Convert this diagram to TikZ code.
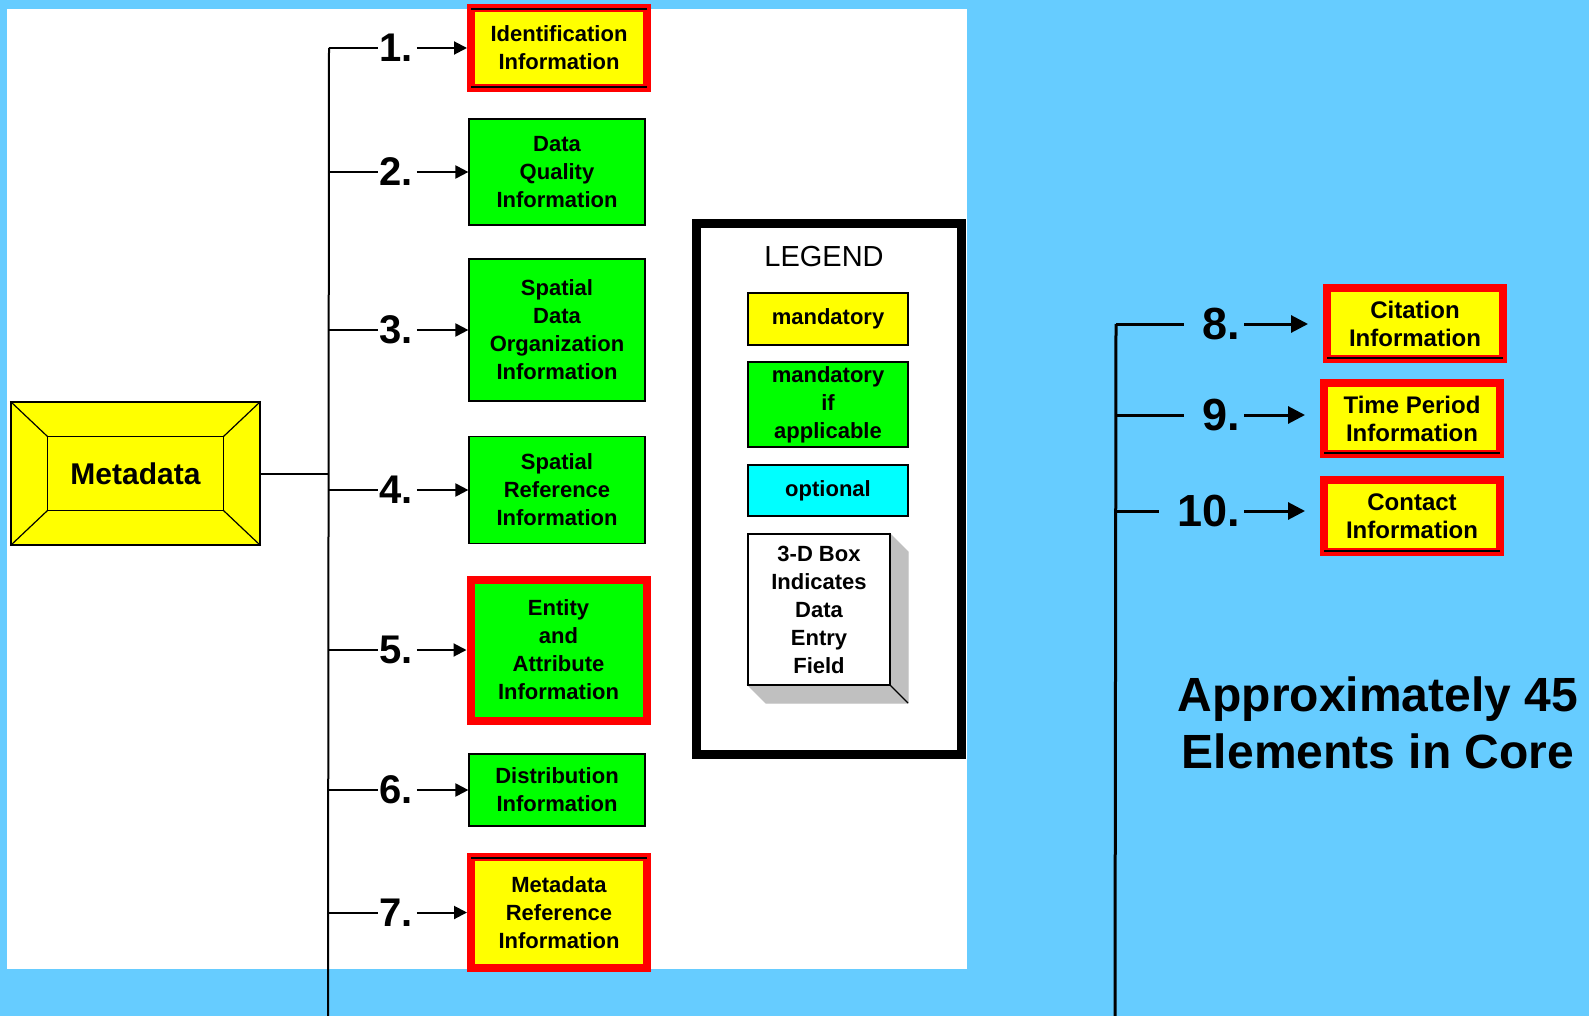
\documentclass[tikz,border=0pt]{standalone}
\usepackage{fontspec}
\setmainfont{Liberation Sans}
\usepackage{tikz}
\usetikzlibrary{arrows.meta,calc}
\definecolor{SkyBack}{HTML}{66CCFF}
\definecolor{MandYellow}{HTML}{FFFF00}
\definecolor{CondGreen}{HTML}{00FF00}
\definecolor{OptCyan}{HTML}{00FFFF}
\definecolor{CoreRed}{HTML}{FF0000}
\definecolor{DepthGray}{HTML}{C0C0C0}

\begin{document}
\begin{tikzpicture}[x=1pt, y=-1pt,
  every node/.style={font=\bfseries},
  boxtext/.style={font=\fontsize{22}{28}\selectfont\bfseries, align=center, inner sep=0pt},
  greenbox/.style={boxtext, draw, line width=1.2pt, fill=CondGreen, minimum width=176pt},
  corebox/.style={boxtext, draw=CoreRed, line width=8pt, fill=#1, minimum width=176pt},
  legendbox/.style={boxtext, draw, line width=1.2pt, fill=#1, minimum width=160pt},
  numlabel/.style={font=\fontsize{40}{40}\selectfont\bfseries, inner sep=1pt},
  bignum/.style={font=\fontsize{45}{45}\selectfont\bfseries, inner sep=2pt, anchor=east},
  sidetext/.style={font=\fontsize{24}{28}\selectfont\bfseries, align=center, inner sep=0pt},
  branch/.style={line width=2pt},
  feed/.style={line width=2pt, -{Triangle[length=13pt,width=13pt]}, shorten <=3pt},
  bigfeed/.style={line width=3pt, -{Triangle[length=17pt,width=17pt]}, shorten <=2pt, shorten >=15pt}]
  \useasboundingbox (0,0) rectangle (1589,1016);
  % page background and white panel
  \fill[SkyBack] (0,0) rectangle (1589,1016);
  \fill[white] (7,9) rectangle (967,969);

  % Metadata root box
  \node[draw, line width=1.2pt, fill=MandYellow, minimum width=249pt, minimum height=143pt,
    font=\fontsize{30}{30}\selectfont\bfseries] (meta) at (135.5,473.5) {Metadata};
  \draw[line width=1.2pt] ([shift={(37,35)}]meta.north west) rectangle ([shift={(-37,-35)}]meta.south east);
  \foreach \c/\dx/\dy in {north west/37/35, north east/-37/35, south west/37/-35, south east/-37/-35}
    \draw[line width=1.2pt] (meta.\c) -- ++(\dx,\dy);

  % left trunk
  \coordinate (ltrunk) at (329,48);
  \coordinate (lend) at (328,1016);
  \coordinate (lcol) at (396,0);
  \draw[branch] (ltrunk) -- (lend);
  \draw[branch] (meta.east) -- (meta.east -| ltrunk);

  % sections 1-7
  \node[corebox=MandYellow, minimum height=80pt] (b1) at (559,48) {Identification\\Information};
  \foreach \n/\y/\h/\txt in {2/172/106/{Data\\Quality\\Information},
      3/330/142/{Spatial\\Data\\Organization\\Information},
      4/490/107/{Spatial\\Reference\\Information},
      6/790/72/{Distribution\\Information}}
    \node[greenbox, minimum height=\h pt] (b\n) at (557,\y) {\txt};
  \node[corebox=CondGreen, minimum height=141pt] (b5) at (558.5,650) {Entity\\and\\Attribute\\Information};
  \node[corebox=MandYellow, minimum height=111pt] (b7) at (559,912.5) {Metadata\\Reference\\Information};
  \draw[line width=1.2pt] ([shift={(4,5)}]b1.north west) -- ([shift={(-4,5)}]b1.north east);
  \draw[line width=1.2pt] ([shift={(4,-5)}]b1.south west) -- ([shift={(-4,-5)}]b1.south east);
  \draw[line width=1.2pt] ([shift={(4,5)}]b7.north west) -- ([shift={(-4,5)}]b7.north east);

  \foreach \n in {1,...,7}{
    \node[numlabel] (l\n) at (b\n.west -| lcol) {\n.};
    \draw[branch] (l\n.west -| ltrunk) -- (l\n.west);
    \draw[feed] (l\n.east) -- (b\n.west);
  }

  % legend
  \node[draw, line width=9pt, minimum width=265pt, minimum height=531pt] (legend) at (829,489) {};
  \node[font=\fontsize{29}{29}\selectfont\mdseries] (lgtitle) at (824,257) {LEGEND};
  \node[legendbox=MandYellow, minimum height=52pt] (lgmand) at (828,319) {mandatory};
  \node[legendbox=CondGreen, minimum height=85pt] (lgcond) at (828,404.5) {mandatory\\if\\applicable};
  \node[legendbox=OptCyan, minimum height=51pt] (lgopt) at (828,490.5) {optional};
  \fill[DepthGray, draw, line width=1.2pt] (890,534) -- (908,552) -- (908,703) -- (766,703) -- (748,685) -- (890,685) -- cycle;
  \draw[line width=1.2pt] (890,685) -- (908,703);
  \node[boxtext, draw, line width=1.2pt, fill=white, minimum width=142pt, minimum height=151pt] (lg3d)
    at (819,609.5) {3-D Box\\Indicates\\Data\\Entry\\Field};

  % core sections 8-10
  \coordinate (rtrunk) at (1116,324);
  \coordinate (rend) at (1115,1016);
  \draw[line width=3pt] (rtrunk) -- (rend);
  \node[corebox=MandYellow, sidetext, minimum width=176pt, minimum height=71pt] (b8) at (1415,323.5) {Citation\\Information};
  \node[corebox=MandYellow, sidetext, minimum width=176pt, minimum height=71pt] (b9) at (1412,418.5) {Time Period\\Information};
  \node[corebox=MandYellow, sidetext, minimum width=176pt, minimum height=72pt] (b10) at (1412,516) {Contact\\Information};
  \foreach \n/\y in {8/324, 9/415, 10/511}{
    \node[bignum] (l\n) at (1242,\y) {\n.};
    \draw[line width=3pt, shorten >=16pt] (l\n.west -| rtrunk) -- (l\n.west);
    \draw[bigfeed] (l\n.east) -- (l\n.east -| b\n.west);
    \draw[line width=1.5pt] ([shift={(4,-5)}]b\n.south west) -- ([shift={(-4,-5)}]b\n.south east);
  }
  \node[font=\fontsize{48}{57}\selectfont\bfseries, align=center, anchor=base] (note) at (1378,768)
    {Approximately 45\\Elements in Core};
\end{tikzpicture}
\end{document}
